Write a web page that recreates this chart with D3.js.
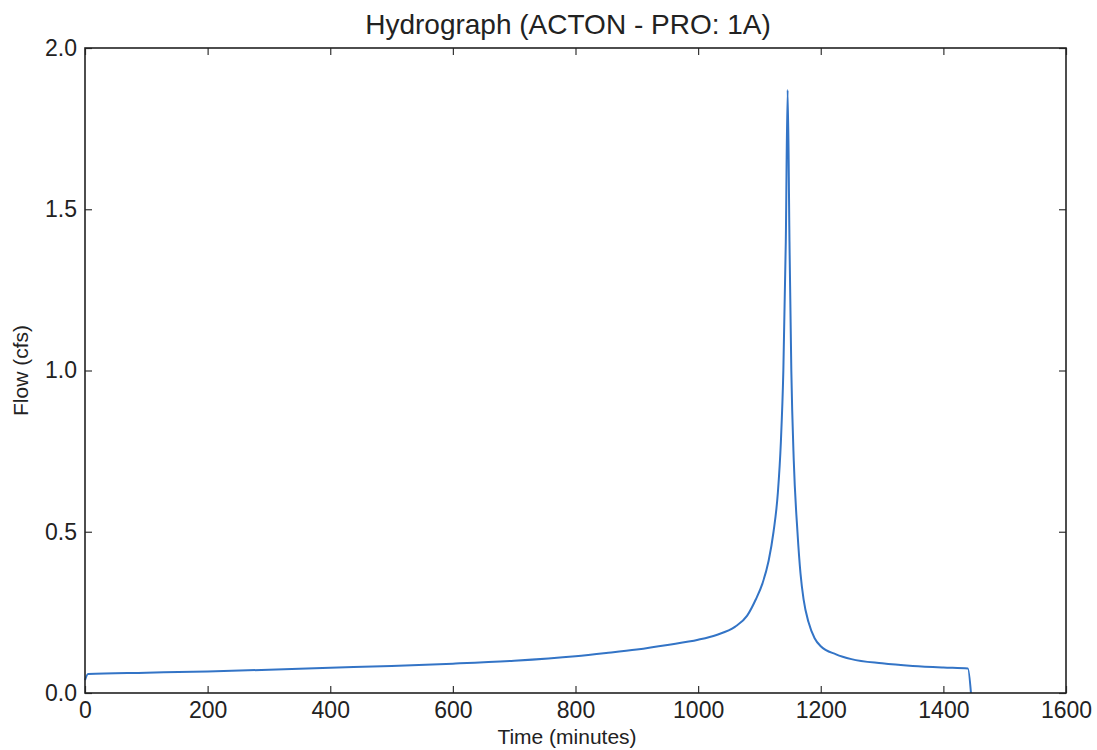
<!DOCTYPE html>
<html>
<head>
<meta charset="utf-8">
<script src="https://cdn.jsdelivr.net/npm/d3@7"></script>
<style>
  body { margin: 0; background: #fff; }
  text { font-family: "Liberation Sans", Arial, sans-serif; fill: #222; }
</style>
</head>
<body>
<script>
// Hydrograph data
var timeMinutes = [0, 5, 100, 200, 300, 400, 500, 600, 700, 800, 850, 900, 950, 1000, 1030, 1060, 1080, 1094, 1105, 1115, 1123, 1130, 1135, 1139, 1143, 1146, 1149, 1152, 1156, 1162, 1167, 1172, 1180, 1190, 1200, 1225, 1250, 1300, 1350, 1400, 1440, 1445];
var flowCfs = [0.04, 0.059, 0.063, 0.067, 0.072, 0.078, 0.084, 0.091, 0.1, 0.114, 0.124, 0.135, 0.149, 0.165, 0.18, 0.205, 0.24, 0.29, 0.34, 0.41, 0.5, 0.62, 0.78, 1.0, 1.4, 1.87, 1.4, 1.0, 0.72, 0.5, 0.37, 0.29, 0.22, 0.17, 0.145, 0.12, 0.105, 0.092, 0.084, 0.079, 0.076, 0.0];
var xTicks = [0, 200, 400, 600, 800, 1000, 1200, 1400, 1600];
var yTicks = [0.0, 0.5, 1.0, 1.5, 2.0];

var svgWidth = 1097;
var svgHeight = 750;
var margin = { top: 48, right: 31, bottom: 57, left: 85 };
var chartWidth = svgWidth - margin.left - margin.right;
var chartHeight = svgHeight - margin.top - margin.bottom;

var svg = d3.select("body")
  .append("svg")
  .attr("width", svgWidth)
  .attr("height", svgHeight);

var chartGroup = svg.append("g")
  .attr("transform", `translate(${margin.left}, ${margin.top})`);

var xScale = d3.scaleLinear().domain([0, 1600]).range([0, chartWidth]);
var yScale = d3.scaleLinear().domain([0, 2]).range([chartHeight, 0]);

var data = timeMinutes.map((t, i) => ({ t: t, q: flowCfs[i] }));

// the line
var line = d3.line()
  .x(d => xScale(d.t))
  .y(d => yScale(d.q))
  .curve(d3.curveMonotoneX);

chartGroup.append("path")
  .datum(data)
  .attr("fill", "none")
  .attr("stroke", "#3374c6")
  .attr("stroke-width", 2)
  .attr("stroke-linejoin", "round")
  .attr("d", line);

// axes, ticks pointing inward on all four sides
var tickLen = 7;

var bottomAxis = d3.axisBottom(xScale).tickValues(xTicks).tickSize(-tickLen).tickPadding(9).tickFormat(d3.format("d"));
var topAxis = d3.axisTop(xScale).tickValues(xTicks).tickSize(-tickLen).tickFormat("");
var leftAxis = d3.axisLeft(yScale).tickValues(yTicks).tickSize(-tickLen).tickPadding(8).tickFormat(d3.format(".1f"));
var rightAxis = d3.axisRight(yScale).tickValues(yTicks).tickSize(-tickLen).tickFormat("");

function styleAxis(g) {
  g.select(".domain").remove();
  g.selectAll(".tick line").attr("stroke", "#333").attr("stroke-width", 1.2);
  g.selectAll(".tick text")
    .attr("font-size", "23px")
    .attr("font-family", "Liberation Sans, Arial, sans-serif")
    .attr("fill", "#222");
}

chartGroup.append("g")
  .attr("transform", `translate(0, ${chartHeight})`)
  .call(bottomAxis)
  .call(styleAxis);

chartGroup.append("g").call(topAxis).call(styleAxis);
chartGroup.append("g").call(leftAxis).call(styleAxis);
chartGroup.append("g")
  .attr("transform", `translate(${chartWidth}, 0)`)
  .call(rightAxis)
  .call(styleAxis);

// frame
chartGroup.append("rect")
  .attr("width", chartWidth)
  .attr("height", chartHeight)
  .attr("fill", "none")
  .attr("stroke", "#222")
  .attr("stroke-width", 1.6);

// title and labels
svg.append("text")
  .attr("x", 568)
  .attr("y", 34)
  .attr("text-anchor", "middle")
  .attr("font-size", "28px")
  .text("Hydrograph (ACTON - PRO: 1A)");

svg.append("text")
  .attr("x", 567)
  .attr("y", 744)
  .attr("text-anchor", "middle")
  .attr("font-size", "21px")
  .text("Time (minutes)");

svg.append("text")
  .attr("transform", "rotate(-90)")
  .attr("x", -(margin.top + chartHeight / 2))
  .attr("y", 28)
  .attr("text-anchor", "middle")
  .attr("font-size", "21px")
  .text("Flow (cfs)");
</script>
</body>
</html>
